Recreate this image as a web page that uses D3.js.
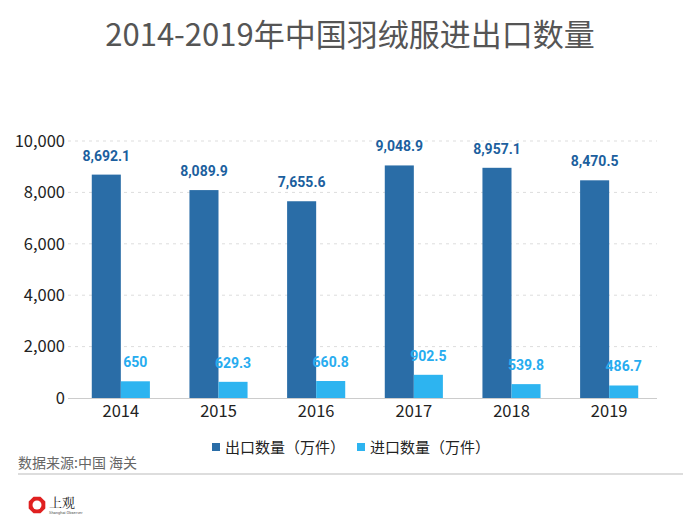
<!DOCTYPE html>
<html><head><meta charset="utf-8">
<script src="https://cdn.jsdelivr.net/npm/d3@7"></script>
<style>body{margin:0;background:#fff;}svg{display:block;}</style>
</head><body>
<svg id="c" width="700" height="529"></svg>
<script>
const years = ["2014","2015","2016","2017","2018","2019"];
const exportValues = [8692.1, 8089.9, 7655.6, 9048.9, 8957.1, 8470.5];
const importValues = [650, 629.3, 660.8, 902.5, 539.8, 486.7];
const seriesNames = ["出口数量（万件）", "进口数量（万件）"];
const yTicks = [0, 2000, 4000, 6000, 8000, 10000];

const colors = ["#2a6da7", "#2db4f0"];
const labelColors = ["#1c5f9e", "#27acef"];
const font = "'Noto Sans CJK SC', 'Noto Sans', sans-serif";

const svg = d3.select("#c");
svg.append("text").attr("x", 350).attr("y", 46).attr("text-anchor", "middle")
  .attr("font-family", font).attr("font-size", 31).attr("fill", "#555").text("2014-2019年中国羽绒服进出口数量");

const y = d3.scaleLinear().domain([0, 10000]).range([398, 141]);
const x0 = d3.scaleBand().domain(years).range([72, 658]).paddingInner(0.405).paddingOuter(0.2025);
const x1 = d3.scaleBand().domain([0, 1]).range([0, x0.bandwidth()]);

// gridlines
svg.append("g").selectAll("line").data(yTicks.filter(d => d > 0)).join("line")
  .attr("x1", 68).attr("x2", 657).attr("y1", d => y(d)).attr("y2", d => y(d))
  .attr("stroke", "#ddd").attr("stroke-dasharray", "3,4").attr("stroke-width", 1);

// y axis
const yAxis = d3.axisLeft(y).tickValues(yTicks).tickSize(0).tickPadding(0).tickFormat(d3.format(","));
const ya = svg.append("g").attr("transform", "translate(65,0)").call(yAxis);
ya.select(".domain").remove();
ya.selectAll("text").attr("font-family", font).attr("font-size", 16.5).attr("fill", "#222");

// bars
const data = years.map((yr, i) => ({year: yr, vals: [exportValues[i], importValues[i]]}));
const groups = svg.append("g").selectAll("g").data(data).join("g")
  .attr("transform", d => `translate(${x0(d.year)},0)`);
groups.selectAll("rect").data(d => d.vals.map((v, k) => ({v, k}))).join("rect")
  .attr("x", d => x1(d.k)).attr("width", x1.bandwidth())
  .attr("y", d => y(d.v)).attr("height", d => y(0) - y(d.v))
  .attr("fill", d => colors[d.k]);
groups.selectAll("text").data(d => d.vals.map((v, k) => ({v, k}))).join("text")
  .attr("x", d => x1(d.k) + x1.bandwidth() / 2).attr("y", d => y(d.v) - 14)
  .attr("text-anchor", "middle").attr("font-family", "Roboto, sans-serif").attr("font-weight", "bold")
  .attr("font-size", 14).attr("fill", d => labelColors[d.k])
  .text(d => d3.format(",")(d.v));

// x axis
svg.append("line").attr("x1", 68).attr("x2", 657).attr("y1", y(0) + 0.5).attr("y2", y(0) + 0.5)
  .attr("stroke", "#ccc").attr("stroke-width", 1);
const xAxis = d3.axisBottom(x0).tickSize(0).tickPadding(0);
const xa = svg.append("g").attr("transform", `translate(0,${y(0) + 4})`).call(xAxis);
xa.select(".domain").remove();
xa.selectAll("text").attr("font-family", font).attr("font-size", 16.5).attr("fill", "#222").attr("dy", "0.9em");

// legend
const legX = [212, 357];
seriesNames.forEach((n, i) => {
  svg.append("rect").attr("x", legX[i]).attr("y", 443).attr("width", 8).attr("height", 8).attr("fill", colors[i]);
  svg.append("text").attr("x", legX[i] + 13).attr("y", 453).attr("font-family", font).attr("font-size", 15)
    .attr("fill", "#222").text(n);
});

// source
svg.append("text").attr("x", 18).attr("y", 468).attr("font-family", font).attr("font-size", 14)
  .attr("fill", "#666").text("数据来源:中国 海关");
svg.append("line").attr("x1", 18).attr("x2", 683).attr("y1", 474).attr("y2", 474).attr("stroke", "#ddd").attr("stroke-width", 2);

// logo
const lg = svg.append("g").attr("transform", "translate(37,505)");
const oct = d3.range(8).map(k => { const a = Math.PI / 8 + k * Math.PI / 4; return [9 * Math.cos(a), 9 * Math.sin(a)]; });
lg.append("polygon").attr("points", oct.map(p => p.join(",")).join(" ")).attr("fill", "#e02020");
lg.append("circle").attr("r", 4.5).attr("fill", "#fff");
lg.append("text").attr("x", 12).attr("y", 2).attr("font-family", "'Noto Serif CJK SC','Noto Sans CJK SC',serif")
  .attr("font-size", 13).attr("fill", "#222").text("上观");
lg.append("text").attr("x", 12).attr("y", 9).attr("font-family", "Roboto, sans-serif").attr("font-size", 4)
  .attr("fill", "#555").text("Shanghai Observer");
</script>
</body></html>
